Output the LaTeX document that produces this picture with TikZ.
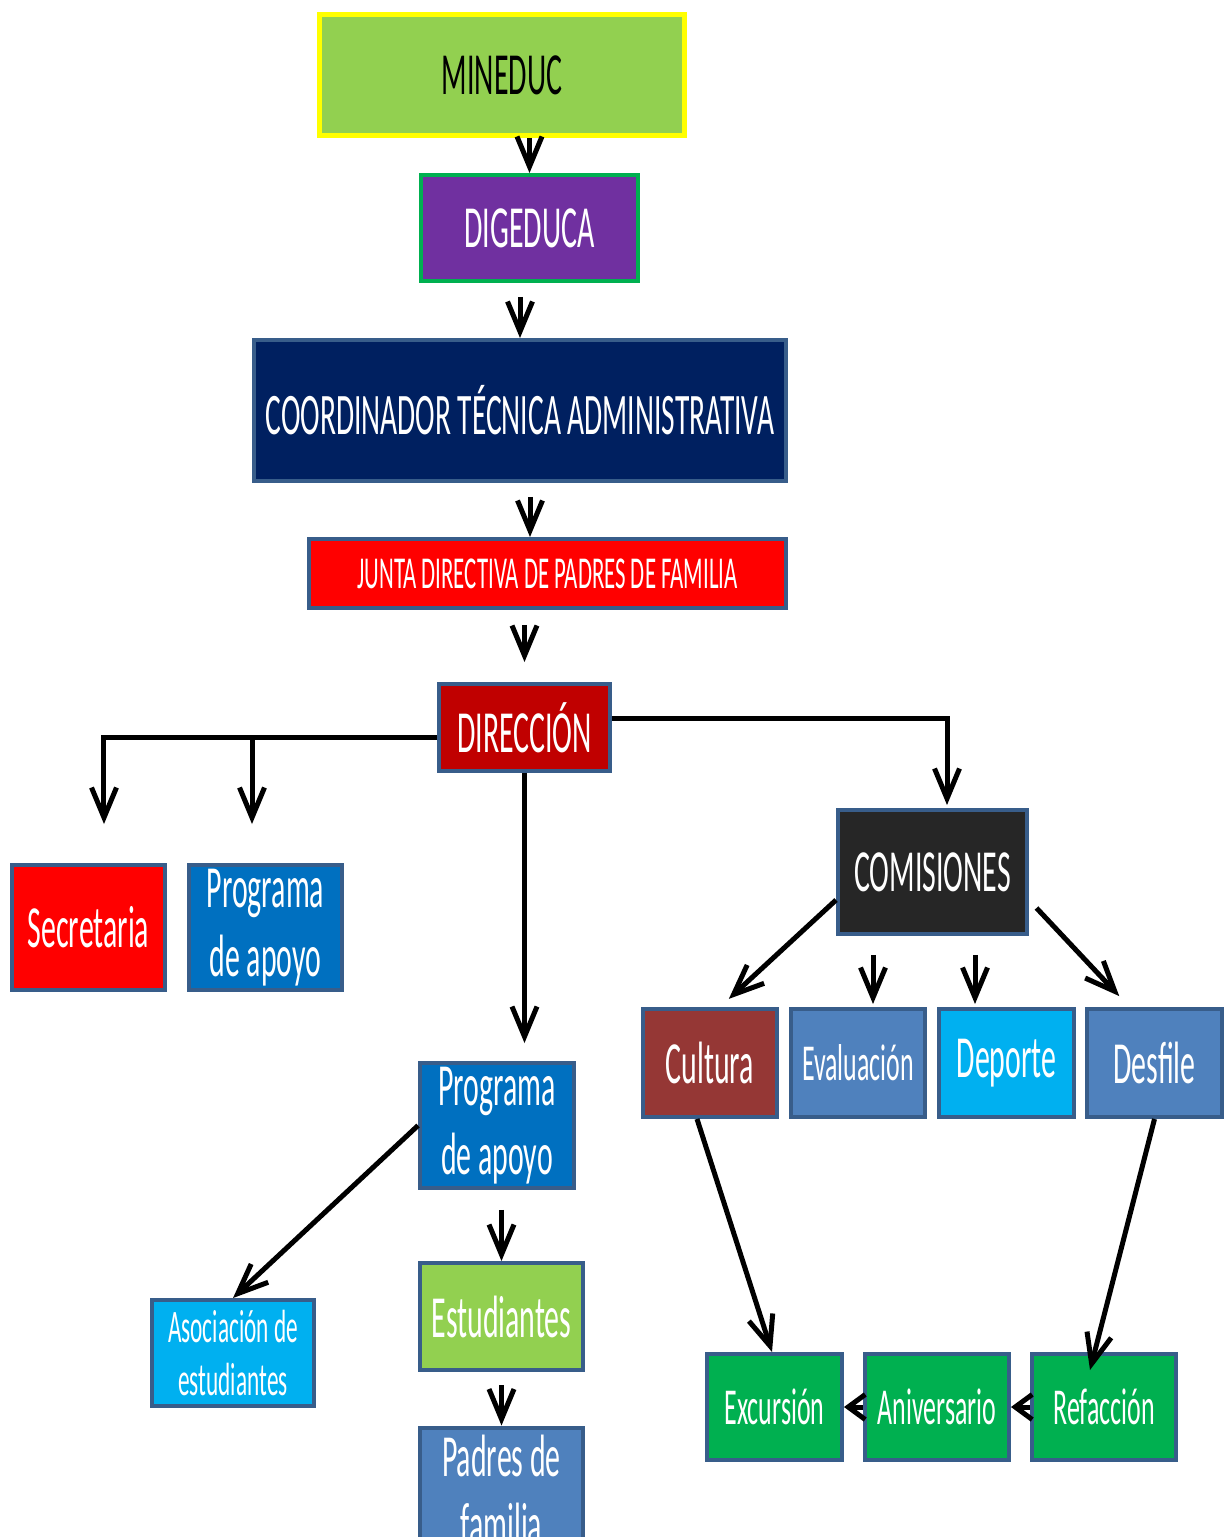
\documentclass[tikz,border=0pt]{standalone}
\usepackage{fontspec}
\setmainfont{Carlito}[FakeStretch=0.5]
\usepackage{tikz}
\usetikzlibrary{arrows.meta,calc}

\definecolor{lime}{HTML}{92D050}
\definecolor{amarillo}{HTML}{FFFF00}
\definecolor{morado}{HTML}{7030A0}
\definecolor{verde}{HTML}{00B050}
\definecolor{marino}{HTML}{002060}
\definecolor{rojo}{HTML}{FF0000}
\definecolor{granate}{HTML}{C00000}
\definecolor{azul}{HTML}{0070C0}
\definecolor{negro}{HTML}{262626}
\definecolor{cafe}{HTML}{953735}
\definecolor{acero}{HTML}{4F81BD}
\definecolor{celeste}{HTML}{00B0F0}
\definecolor{marco}{HTML}{385D8A}

\begin{document}
\begin{tikzpicture}[x=0.02cm,y=-0.02cm,
    box/.style={draw=marco,line width=0.08cm,text=white,align=center,inner sep=0pt},
    big/.style={font=\fontsize{34pt}{39pt}\selectfont},
    mid/.style={font=\fontsize{29.5pt}{34pt}\selectfont},
    small/.style={font=\fontsize{26.5pt}{30.5pt}\selectfont},
    arr/.style={line width=0.1cm,-{Straight Barb[length=0.6cm,width=0.5cm]}},
    shortarr/.style={line width=0.1cm,-{Straight Barb[length=0.34cm,width=0.5cm]}}]
    \useasboundingbox (0,0) rectangle (1227,1537);

    % Top chain
    \node[box,draw=amarillo,line width=0.1cm,fill=lime,text=black,big,minimum width=7.3cm,minimum height=2.42cm] (mineduc) at (502,75) {MINEDUC};
    \node[box,draw=verde,fill=morado,big,minimum width=4.34cm,minimum height=2.12cm] (digeduca) at (529.5,228) {DIGEDUCA};
    \node[box,fill=marino,font=\fontsize{33.5pt}{38pt}\selectfont,minimum width=10.64cm,minimum height=2.82cm] (coord) at (520,410.5) {COORDINADOR T\'ECNICA ADMINISTRATIVA};
    \node[box,fill=rojo,font=\fontsize{26pt}{30pt}\selectfont,minimum width=9.54cm,minimum height=1.38cm] (junta) at (547.5,573.5) {JUNTA DIRECTIVA DE PADRES DE FAMILIA};
    \node[box,fill=granate,big,minimum width=3.42cm,minimum height=1.74cm] (direccion) at (524.5,727.5) {DIRECCI\'ON};

    % Left branch
    \node[box,fill=rojo,big,minimum width=3.06cm,minimum height=2.5cm] (secretaria) at (88.5,927.5) {Secretaria};
    \node[box,fill=azul,big,minimum width=3.06cm,minimum height=2.5cm] (apoyoA) at (265.5,927.5) {Programa\\de apoyo};

    % Middle branch
    \node[box,fill=azul,big,minimum width=3.08cm,minimum height=2.5cm] (apoyoB) at (497,1125.5) {Programa\\de apoyo};
    \node[box,fill=celeste,small,minimum width=3.24cm,minimum height=2.12cm] (asociacion) at (233,1353) {Asociaci\'on de\\estudiantes};
    \node[box,fill=lime,big,minimum width=3.26cm,minimum height=2.14cm] (estudiantes) at (501.5,1316.5) {Estudiantes};
    \node[box,fill=acero,big,minimum width=3.26cm,minimum height=2.5cm] (padres) at (501.5,1490) {Padres de\\familia};

    % Right branch
    \node[box,fill=negro,big,minimum width=3.78cm,minimum height=2.48cm] (comisiones) at (932.5,872) {COMISIONES};
    \node[box,fill=cafe,big,minimum width=2.68cm,minimum height=2.16cm] (cultura) at (710,1063) {Cultura};
    \node[box,fill=acero,mid,minimum width=2.68cm,minimum height=2.16cm] (evaluacion) at (858,1063) {Evaluaci\'on};
    \node[box,fill=celeste,big,minimum width=2.7cm,minimum height=2.16cm] (deporte) at (1006.5,1063) {Deporte};
    \node[box,fill=acero,big,minimum width=2.7cm,minimum height=2.16cm] (desfile) at (1154.5,1063) {Desfile};
    \node[box,fill=verde,mid,minimum width=2.7cm,minimum height=2.12cm] (excursion) at (774.5,1407) {Excursi\'on};
    \node[box,fill=verde,mid,minimum width=2.88cm,minimum height=2.12cm] (aniversario) at (937,1407) {Aniversario};
    \node[box,fill=verde,mid,minimum width=2.88cm,minimum height=2.12cm] (refaccion) at (1104,1407) {Refacci\'on};

    % Connectors top
    \draw[arr] (mineduc.south -| digeduca.north) -- (digeduca.north);
    \draw[arr,shorten <=0.28cm] (digeduca.south -| coord.north) -- (coord.north);
    \draw[arr,shorten <=0.28cm] ([xshift=0.2cm]coord.south) -- ([xshift=0.2cm]coord.south |- junta.north);
    \draw[arr,shorten <=0.3cm,shorten >=0.4cm] (junta.south -| direccion.north) -- (direccion.north);

    % Connectors from DIRECCION
    \coordinate (dl) at ([yshift=-0.19cm]direccion.west);
    \coordinate (ts) at ([xshift=0.31cm]secretaria.north);
    \coordinate (ta) at ([xshift=-0.27cm]apoyoA.north);
    \draw[arr,shorten >=0.78cm] (dl) -| (ts);
    \draw[arr,shorten >=0.78cm] (dl -| ta) -- (ta);
    \draw[arr,shorten >=0.06cm] ([yshift=0.19cm]direccion.east) -| ([xshift=0.29cm]comisiones.north);
    \draw[arr,shorten >=0.36cm] (direccion.south) -- (direccion.south |- apoyoB.north);

    % Connectors from COMISIONES
    \draw[arr,shorten >=0.24cm] ([yshift=-0.56cm]comisiones.west) -- ([xshift=0.2cm]cultura.north);
    \draw[arr,shorten <=0.38cm,shorten >=0.06cm] ([xshift=0.3cm]evaluacion.north |- comisiones.south) -- ([xshift=0.3cm]evaluacion.north);
    \draw[arr,shorten <=0.38cm,shorten >=0.06cm] ([xshift=-0.63cm]deporte.north |- comisiones.south) -- ([xshift=-0.63cm]deporte.north);
    \draw[arr,shorten <=0.22cm,shorten >=0.3cm] ([yshift=-0.56cm]comisiones.east) -- ([xshift=-0.5cm]desfile.north);

    % Connectors lower
    \draw[arr] (apoyoB.west) -- (asociacion.north);
    \draw[arr,shorten <=0.4cm] (apoyoB.south -| estudiantes.north) -- (estudiantes.north);
    \draw[arr,shorten <=0.26cm] (estudiantes.south) -- (padres.north);
    \draw[arr] ([xshift=-0.26cm]cultura.south) -- ([xshift=-0.05cm]excursion.north);
    \draw[arr] (desfile.south) -- ([xshift=-0.28cm,yshift=-0.36cm]refaccion.north);
    \draw[shortarr] (aniversario.west) -- (excursion.east);
    \draw[shortarr] (refaccion.west) -- (aniversario.east);
\end{tikzpicture}
\end{document}
